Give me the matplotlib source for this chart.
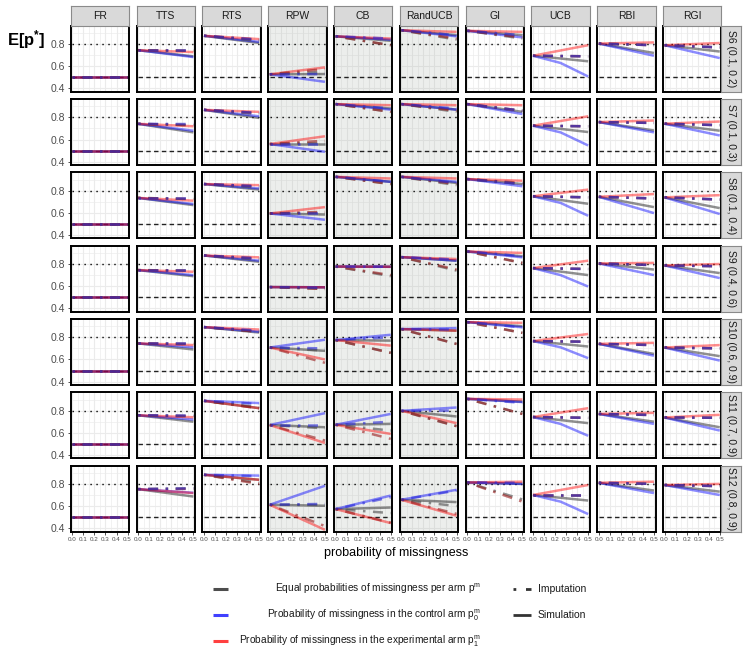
import matplotlib
matplotlib.use("Agg")
from matplotlib import pyplot as plt

plt.rcParams['font.family'] = ['Liberation Sans', 'DejaVu Sans']
plt.rcParams['mathtext.fontset'] = 'custom'
plt.rcParams['mathtext.rm'] = 'Liberation Sans'
plt.rcParams['mathtext.it'] = 'Liberation Sans:italic'
plt.rcParams['mathtext.bf'] = 'Liberation Sans:bold'

ALGOS = ["FR", "TTS", "RTS", "RPW", "CB", "RandUCB", "GI", "UCB", "RBI", "RGI"]
SCENARIOS = ["S6 (0.1, 0.2)", "S7 (0.1, 0.3)", "S8 (0.1, 0.4)", "S9 (0.4, 0.6)",
             "S10 (0.6, 0.9)", "S11 (0.7, 0.9)", "S12 (0.8, 0.9)"]
SHADED = ["RPW", "CB", "RandUCB"]
P_START, P_MID, P_END = 0.0, 0.25, 0.5
X_TICKS = [0.0, 0.1, 0.2, 0.3, 0.4, 0.5]
X_MINOR = [0.05, 0.15, 0.25, 0.35, 0.45]
X_LABELS = ["0.0", "0.1", "0.2", "0.3", "0.4", "0.5"]
Y_TICKS = [0.4, 0.6, 0.8]
Y_MINOR = [0.5, 0.7, 0.9]
Y_LABELS = ["0.4", "0.6", "0.8"]
TARGET_HIGH = 0.8
TARGET_LOW = 0.5

# E[p*] at probability of missingness 0 (rows S6..S12, columns as ALGOS)
START = [
    [0.50, 0.745, 0.875, 0.528, 0.870, 0.925, 0.920, 0.695, 0.805, 0.790],
    [0.50, 0.742, 0.868, 0.560, 0.920, 0.920, 0.920, 0.725, 0.758, 0.743],
    [0.50, 0.735, 0.860, 0.595, 0.925, 0.925, 0.905, 0.750, 0.745, 0.740],
    [0.50, 0.745, 0.877, 0.592, 0.777, 0.862, 0.913, 0.763, 0.805, 0.787],
    [0.50, 0.745, 0.892, 0.708, 0.775, 0.874, 0.937, 0.766, 0.741, 0.708],
    [0.50, 0.758, 0.888, 0.670, 0.672, 0.798, 0.906, 0.742, 0.770, 0.738],
    [0.50, 0.753, 0.882, 0.612, 0.573, 0.657, 0.813, 0.700, 0.810, 0.790],
]
# simulation, value at missingness 0.5
SIM_GRAY_END = [
    [0.50, 0.690, 0.810, 0.530, 0.830, 0.880, 0.880, 0.645, 0.720, 0.733],
    [0.50, 0.665, 0.795, 0.560, 0.880, 0.870, 0.850, 0.668, 0.682, 0.680],
    [0.50, 0.670, 0.810, 0.585, 0.880, 0.870, 0.860, 0.682, 0.652, 0.643],
    [0.50, 0.690, 0.820, 0.590, 0.775, 0.830, 0.870, 0.700, 0.750, 0.718],
    [0.50, 0.690, 0.843, 0.678, 0.770, 0.860, 0.900, 0.717, 0.650, 0.630],
    [0.50, 0.700, 0.822, 0.650, 0.680, 0.747, 0.880, 0.687, 0.700, 0.650],
    [0.50, 0.686, 0.837, 0.603, 0.587, 0.636, 0.800, 0.650, 0.740, 0.730],
]
SIM_BLUE_END = [
    [0.50, 0.683, 0.820, 0.460, 0.840, 0.870, 0.860, 0.508, 0.695, 0.674],
    [0.50, 0.680, 0.810, 0.490, 0.870, 0.870, 0.830, 0.547, 0.665, 0.637],
    [0.50, 0.680, 0.820, 0.538, 0.880, 0.880, 0.840, 0.574, 0.598, 0.590],
    [0.50, 0.700, 0.830, 0.590, 0.775, 0.830, 0.860, 0.597, 0.700, 0.673],
    [0.50, 0.710, 0.850, 0.778, 0.823, 0.883, 0.890, 0.612, 0.634, 0.590],
    [0.50, 0.720, 0.868, 0.777, 0.770, 0.828, 0.877, 0.573, 0.680, 0.620],
    [0.50, 0.720, 0.875, 0.783, 0.695, 0.747, 0.800, 0.528, 0.717, 0.700],
]
SIM_RED_END = [
    [0.50, 0.728, 0.845, 0.590, 0.850, 0.910, 0.910, 0.790, 0.815, 0.810],
    [0.50, 0.720, 0.850, 0.630, 0.910, 0.910, 0.910, 0.810, 0.772, 0.763],
    [0.50, 0.710, 0.850, 0.652, 0.910, 0.910, 0.890, 0.810, 0.770, 0.760],
    [0.50, 0.730, 0.860, 0.590, 0.775, 0.845, 0.900, 0.830, 0.810, 0.800],
    [0.50, 0.730, 0.870, 0.600, 0.725, 0.860, 0.930, 0.830, 0.750, 0.730],
    [0.50, 0.740, 0.822, 0.508, 0.590, 0.687, 0.900, 0.822, 0.780, 0.762],
    [0.50, 0.717, 0.837, 0.386, 0.447, 0.513, 0.820, 0.790, 0.820, 0.800],
]
# UCB control-arm curve at missingness 0.25 (rows S6..S12)
UCB_BLUE_MID = [0.630, 0.665, 0.690, 0.700, 0.710, 0.680, 0.640]
# imputation, value at missingness 0.5
IMP_GRAY_END = [
    [0.50, 0.740, 0.830, 0.550, 0.790, 0.840, 0.850, 0.690, 0.790, 0.770],
    [0.50, 0.730, 0.830, 0.570, 0.850, 0.850, 0.860, 0.720, 0.750, 0.730],
    [0.50, 0.725, 0.830, 0.600, 0.860, 0.850, 0.860, 0.740, 0.730, 0.720],
    [0.50, 0.740, 0.840, 0.575, 0.690, 0.740, 0.810, 0.755, 0.790, 0.780],
    [0.50, 0.740, 0.850, 0.680, 0.660, 0.740, 0.840, 0.760, 0.730, 0.700],
    [0.50, 0.750, 0.830, 0.640, 0.620, 0.660, 0.770, 0.735, 0.760, 0.735],
    [0.50, 0.760, 0.810, 0.610, 0.537, 0.600, 0.660, 0.700, 0.800, 0.780],
]
IMP_BLUE_END = [
    [0.50, 0.745, 0.840, 0.530, 0.850, 0.880, 0.880, 0.690, 0.790, 0.770],
    [0.50, 0.740, 0.840, 0.560, 0.880, 0.880, 0.860, 0.720, 0.750, 0.730],
    [0.50, 0.735, 0.840, 0.595, 0.880, 0.870, 0.860, 0.740, 0.730, 0.720],
    [0.50, 0.745, 0.850, 0.585, 0.775, 0.840, 0.870, 0.755, 0.790, 0.780],
    [0.50, 0.745, 0.860, 0.700, 0.800, 0.870, 0.890, 0.760, 0.730, 0.700],
    [0.50, 0.755, 0.860, 0.670, 0.700, 0.800, 0.870, 0.735, 0.760, 0.735],
    [0.50, 0.760, 0.870, 0.620, 0.680, 0.740, 0.810, 0.700, 0.800, 0.780],
]
IMP_RED_END = [
    [0.50, 0.740, 0.840, 0.575, 0.790, 0.850, 0.860, 0.690, 0.790, 0.770],
    [0.50, 0.730, 0.840, 0.590, 0.850, 0.860, 0.860, 0.720, 0.750, 0.730],
    [0.50, 0.725, 0.840, 0.610, 0.860, 0.860, 0.870, 0.740, 0.730, 0.720],
    [0.50, 0.740, 0.850, 0.575, 0.700, 0.750, 0.810, 0.755, 0.790, 0.780],
    [0.50, 0.740, 0.850, 0.570, 0.660, 0.740, 0.840, 0.760, 0.730, 0.700],
    [0.50, 0.750, 0.820, 0.530, 0.545, 0.660, 0.770, 0.735, 0.760, 0.735],
    [0.50, 0.755, 0.800, 0.420, 0.450, 0.530, 0.640, 0.700, 0.800, 0.780],
]

LEGEND_ARMS = [r"Equal probabilities of missingness per arm $\mathregular{p^m}$",
               r"Probability of missingness in the control arm $\mathregular{p_0^m}$",
               r"Probability of missingness in the experimental arm $\mathregular{p_1^m}$"]
LEGEND_TYPES = ["Imputation", "Simulation"]

# colours / styles
SIM_COLORS = ["#222222", "#0000FF", "#FF0000"]
IMP_COLORS = ["#4A4A4A", "#2A2AD8", "#9A1A1A"]
KEY_COLORS = ["#4D4D4D", "#4040FF", "#FF4040"]
DOTDASH = (0, (1, 3, 4, 3))

W, H = 747, 664
PX0, PW, DX = 70.7, 58.5, 65.8
PY0, PH, DY = 25.8, 66.0, 73.3


def frac(x, y, w, h):
    return [x / W, 1 - (y + h) / H, w / W, h / H]


def strip(rect, label, rot):
    st = fig.add_axes(rect)
    st.set_facecolor("#D9D9D9")
    st.set_xticks([])
    st.set_yticks([])
    for sp in st.spines.values():
        sp.set_color("#8A8A8A")
        sp.set_linewidth(0.8)
    st.text(0.5, 0.5, label, ha="center", va="center", rotation=rot, fontsize=7.5,
            color="#1A1A1A", transform=st.transAxes)


fig = plt.figure(figsize=(W / 100, H / 100), dpi=100)

for r, scen in enumerate(SCENARIOS):
    for c, algo in enumerate(ALGOS):
        left = PX0 + c * DX
        top = PY0 + r * DY
        ax = fig.add_axes(frac(left, top, PW, PH))
        shaded = algo in SHADED
        ax.set_facecolor("#ECEEEC" if shaded else "white")
        gc = "#DCDEDC" if shaded else "#EBEBEB"
        ax.set_xticks(X_TICKS)
        ax.set_xticks(X_MINOR, minor=True)
        ax.set_yticks(Y_TICKS)
        ax.set_yticks(Y_MINOR, minor=True)
        ax.grid(which="major", color=gc, lw=0.8)
        ax.grid(which="minor", color=gc, lw=0.45)
        ax.set_axisbelow(True)

        # reference targets
        ax.plot([P_START, P_END], [TARGET_HIGH, TARGET_HIGH], color="black",
                lw=1.0, linestyle=(0, (1, 3.3)), zorder=2)
        ax.plot([P_START, P_END], [TARGET_LOW, TARGET_LOW], color="#222222",
                lw=1.0, linestyle=(0, (3.2, 2.4)), zorder=2)

        s = START[r][c]
        # simulation lines
        ax.plot([P_START, P_END], [s, SIM_GRAY_END[r][c]], color=SIM_COLORS[0],
                alpha=0.5, lw=1.8, solid_capstyle="butt", zorder=3)
        if algo == "UCB":
            ax.plot([P_START, P_MID, P_END], [s, UCB_BLUE_MID[r], SIM_BLUE_END[r][c]],
                    color=SIM_COLORS[1], alpha=0.45, lw=1.8, solid_capstyle="butt", zorder=3)
        else:
            ax.plot([P_START, P_END], [s, SIM_BLUE_END[r][c]], color=SIM_COLORS[1],
                    alpha=0.45, lw=1.8, solid_capstyle="butt", zorder=3)
        ax.plot([P_START, P_END], [s, SIM_RED_END[r][c]], color=SIM_COLORS[2],
                alpha=0.45, lw=1.8, solid_capstyle="butt", zorder=3)

        # imputation lines
        for ends, col in zip([IMP_GRAY_END, IMP_RED_END, IMP_BLUE_END],
                             [IMP_COLORS[0], IMP_COLORS[2], IMP_COLORS[1]]):
            ax.plot([P_START, P_END], [s, ends[r][c]], color=col, alpha=0.6,
                    lw=1.8, linestyle=DOTDASH, dash_capstyle="butt", zorder=4)

        ax.set_xlim(-0.015, 0.515)
        ax.set_ylim(0.37, 0.965)
        for sp in ax.spines.values():
            sp.set_color("black")
            sp.set_linewidth(1.4)
            sp.set_zorder(6)

        ax.tick_params(which="minor", length=0)
        if c == 0:
            ax.tick_params(axis="y", which="major", length=2.5, width=0.6,
                           color="#333333", labelsize=7.5, labelcolor="#4D4D4D", pad=1.5)
            ax.set_yticklabels(Y_LABELS)
        else:
            ax.tick_params(axis="y", which="major", length=0, labelleft=False)
        if r == len(SCENARIOS) - 1:
            ax.tick_params(axis="x", which="major", length=2, width=0.6,
                           color="#333333", labelsize=4.5, labelcolor="#4D4D4D", pad=2)
            ax.set_xticklabels(X_LABELS)
        else:
            ax.tick_params(axis="x", which="major", length=0, labelbottom=False)

        if r == 0:
            strip(frac(left, 6.0, PW, PY0 - 6.0), algo, 0)

    strip(frac(PX0 + 9 * DX + PW, PY0 + r * DY, 19.3, PH), scen, -90)

fig.text(7 / W, 1 - 40 / H, r"$\mathbf{E[p^{*}]}$", ha="left", va="center",
         fontsize=12, color="black")
fig.text(396 / W, 1 - 552.7 / H, "probability of missingness", ha="center",
         va="center", fontsize=9, color="black")

# legends
lg = fig.add_axes([0, 0, 1, 1])
lg.set_xlim(0, W)
lg.set_ylim(H, 0)
lg.axis("off")
lg.patch.set_alpha(0)
for i, (lab, col) in enumerate(zip(LEGEND_ARMS, KEY_COLORS)):
    y = 588.7 + i * 26.2
    lg.plot([213, 228], [y, y], color=col, lw=2.2, solid_capstyle="butt")
    lg.text(481, y, lab, ha="right", va="center", fontsize=7.3, color="#1A1A1A")
for i, lab in enumerate(LEGEND_TYPES):
    y = 589 + i * 25.8
    if lab == "Imputation":
        lg.plot([513, 531], [y, y], color="#333333", lw=2.0, linestyle=(0, (1, 3.5, 4, 3)),
                dash_capstyle="butt")
    else:
        lg.plot([513, 531], [y, y], color="#333333", lw=2.0, solid_capstyle="butt")
    lg.text(538, y, lab, ha="left", va="center", fontsize=7.5, color="#1A1A1A")

fig.savefig("out.png", dpi=100)
